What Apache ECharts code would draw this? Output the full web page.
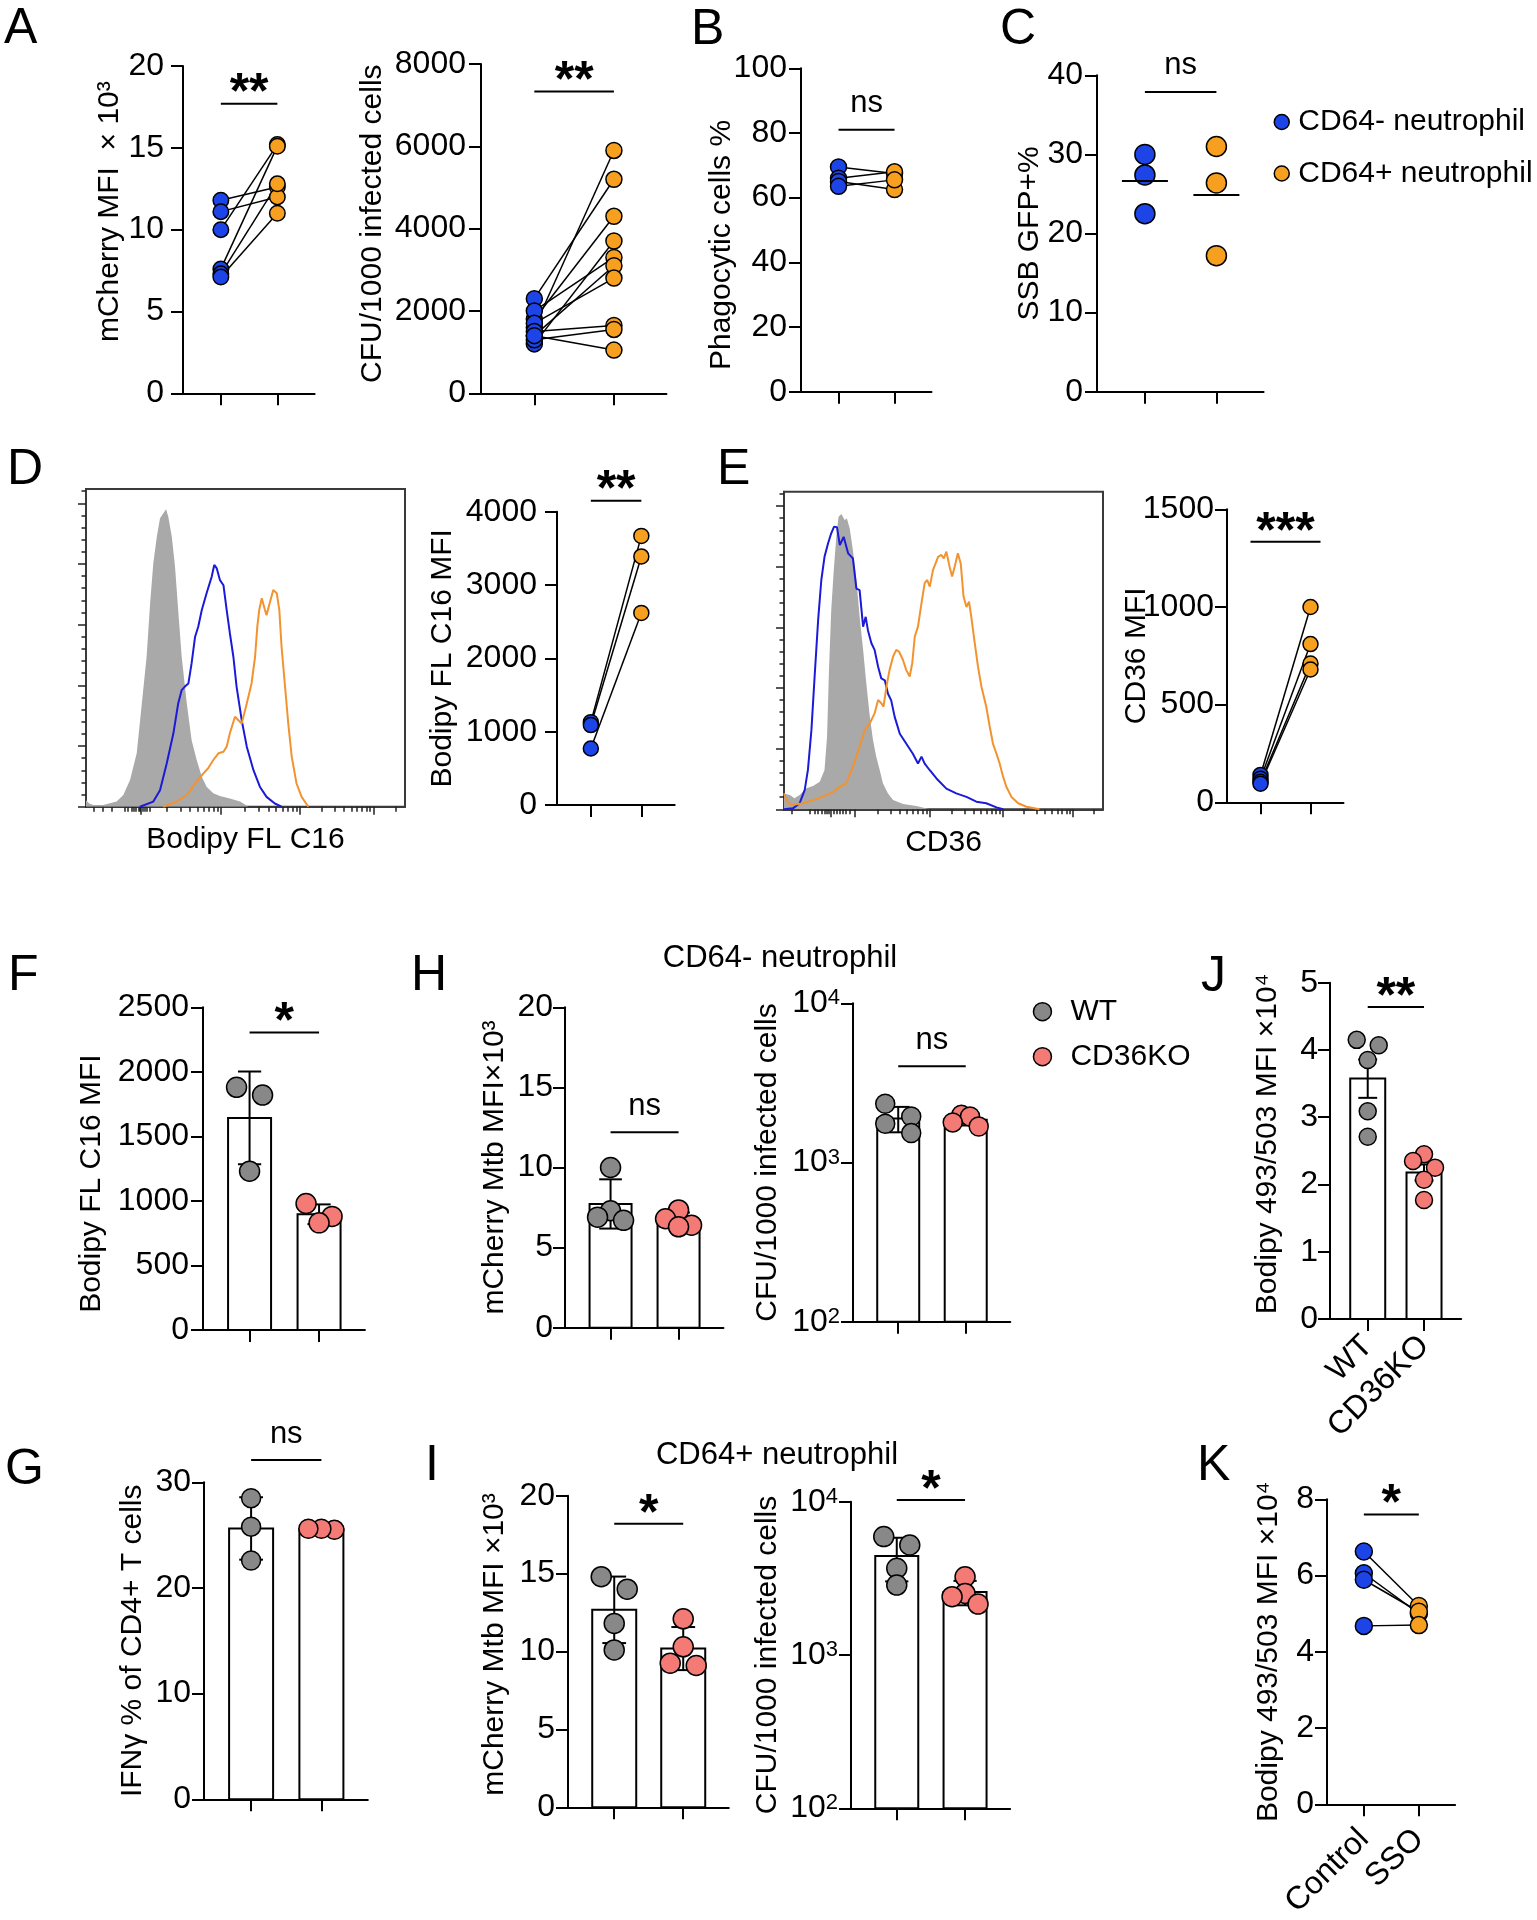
<!DOCTYPE html>
<html>
<head>
<meta charset="utf-8">
<script src="https://cdn.jsdelivr.net/npm/echarts@6/dist/echarts.min.js"></script>
<style>html,body{margin:0;padding:0;background:#fff}#main{width:1537px;height:1920px}</style>
</head>
<body>
<div id="main"></div>
<script>
// ---------- values ----------
// A: CD64- vs CD64+ neutrophils (paired)
var aMchNeg = [11.8, 11.1, 10.0, 7.6, 7.3, 7.1];
var aMchPos = [12.6, 12.0, 15.2, 15.1, 12.8, 11.0];
var aCfuNeg = [1600, 2300, 1800, 1200, 2000, 1400, 1700, 1500, 1300, 1400];
var aCfuPos = [5900, 5200, 4300, 3700, 3300, 3100, 2800, 1650, 1550, 1050];
// B, C
var bNeg = [69.5, 66.0, 65.0, 63.5];
var bPos = [67.5, 68.0, 62.5, 65.5];
var cNeg = [30.0, 27.4, 22.5];
var cPos = [31.0, 26.4, 17.2];
// D, E (MFI, paired)
var dNeg = [1130, 1090, 770];
var dPos = [3670, 3390, 2620];
var eNeg = [140, 120, 105, 95];
var ePos = [1000, 810, 710, 680];
// F-J: WT vs CD36KO
var fWT = [1880, 1820, 1230], fKO = [980, 880, 830];
var gWT = [28.5, 25.8, 22.6], gKO = [25.5, 25.6, 25.6];
var hMchWT = [10.0, 7.3, 6.9, 6.7], hMchKO = [7.35, 6.8, 6.4, 6.3];
var hCfuWT = [2340, 1945, 1750, 1530], hCfuKO = [1995, 1946, 1786, 1683];
var iMchWT = [14.8, 14.0, 11.8, 10.1], iMchKO = [12.1, 10.3, 9.25, 9.1];
var iCfuWT = [5920, 5220, 3680, 2860], iCfuKO = [3240, 2520, 2400, 2150];
var jWT = [4.15, 4.07, 3.85, 3.09, 2.71], jKO = [2.45, 2.35, 2.25, 2.07, 1.77];
// K: control vs SSO (paired)
var kControl = [6.63, 6.06, 5.89, 4.68], kSSO = [5.2, 5.0, 5.05, 4.7];

// significance bars: [from, to, height, label]
var sigA1 = [1, 2, 17.7, '**'], sigA2 = [1, 2, 7330, '**'];
var sigB = [1, 2, 81, 'ns'], sigC = [1, 2, 37.9, 'ns'];
var sigD = [1, 2, 4150, '**'], sigE = [0.8, 2.2, 1334, '***'];
var sigF = [1, 2, 2305, '*'], sigG = [1, 2, 32.1, 'ns'];
var sigH1 = [1, 2, 12.2, 'ns'], sigH2 = [1, 2, 4020, 'ns'];
var sigI1 = [1, 2, 18.2, '*'], sigI2 = [1, 2, 10260, '*'];
var sigJ = [1, 2, 4.64, '**'], sigK = [1, 2, 7.6, '*'];

// flow histograms: [channel (0-100), % of modal height]
var dHistIso = [[0,2.0],[1,1.0],[2.3,0.5],[5.4,0.5],[9.6,1.6],[11.7,3.7],[13.8,8.4],[15.9,16.8],[17.5,32.5],[19.0,47.2],[20.1,64.0],[21.1,76.6],[22.2,85.0],[23.2,90.8],[24.2,92.3],[25.1,93.6],[25.8,91.3],[26.9,85.0],[27.9,75.6],[28.9,61.9],[30.0,47.2],[31.6,32.5],[33.1,21.0],[34.7,14.7],[36.3,9.4],[37.8,6.3],[39.9,4.2],[42.0,3.4],[45.1,2.6],[48.3,1.6],[50.9,0]];
var dHistNeg = [[16.9,0],[21.1,1.6],[23.2,5.2],[25.3,13.6],[27.4,23.1],[28.9,32.5],[30.0,36.7],[31.0,37.8],[32.1,38.8],[33.1,45.1],[34.2,53.5],[35.2,56.7],[36.3,61.9],[37.8,67.2],[39.4,72.4],[40.2,76.1],[41.0,75.0],[42.0,71.3],[43.1,69.7],[44.1,61.9],[45.1,54.6],[46.2,47.2],[47.2,37.8],[48.8,27.3],[50.4,18.9],[52.5,11.5],[54.5,6.3],[56.6,3.1],[59.2,1.0],[61.3,0]];
var dHistPos = [[24.2,0],[28.4,1.6],[31.6,3.7],[34.7,7.9],[36.8,10.5],[38.3,12.1],[39.9,14.7],[41.5,16.8],[43.1,17.3],[44.1,18.9],[45.1,23.1],[46.7,28.3],[48.8,26.2],[50.4,32.5],[51.9,38.8],[53.0,47.2],[53.7,56.7],[54.3,61.9],[55.1,65.6],[56.1,61.9],[56.6,60.3],[57.7,64.5],[58.7,68.2],[59.8,67.2],[60.6,61.9],[61.3,50.4],[62.4,37.8],[63.4,26.2],[64.5,15.7],[66.0,7.3],[67.6,3.1],[69.7,0]];
var eHistIso = [[0,5.0],[1.8,4.5],[3.3,3.5],[4.9,4.5],[7.0,6.6],[9.1,7.3],[11.2,8.7],[12.7,12.4],[13.5,22.9],[14.1,43.9],[14.8,62.7],[15.6,75.3],[16.4,85.8],[17.1,92.1],[18.0,93.0],[19.0,91.1],[19.7,91.6],[20.6,88.5],[21.6,81.6],[22.7,72.2],[23.7,60.7],[24.8,50.2],[25.8,39.7],[26.9,29.2],[27.9,21.8],[28.9,16.6],[30.0,12.4],[31.0,8.2],[32.6,5.0],[34.2,2.9],[37.3,1.7],[41.5,1.0],[45.7,0]];
var eHistNeg = [[0,0],[2.8,0.3],[4.9,1.9],[6.5,6.1],[7.5,12.4],[8.6,25.0],[9.6,41.8],[10.7,59.6],[11.7,72.2],[12.7,79.5],[13.8,83.7],[14.8,86.9],[15.7,89.0],[16.6,88.8],[17.5,83.2],[18.7,85.8],[20.1,80.6],[21.6,79.0],[22.7,69.5],[23.7,69.0],[24.8,57.5],[25.6,60.6],[26.3,56.4],[27.4,52.3],[28.4,50.2],[29.5,44.9],[30.5,41.2],[31.6,40.6],[32.6,36.4],[33.6,34.3],[34.7,29.1],[36.3,23.8],[38.3,20.7],[40.4,17.5],[42.0,14.4],[43.1,16.6],[44.1,14.4],[45.7,12.3],[47.8,9.7],[50.9,6.5],[54.0,5.0],[57.2,3.9],[60.3,2.4],[63.4,1.9],[66.6,0.6],[68.7,0]];
var eHistPos = [[0,5.0],[1.3,1.9],[2.8,1.4],[6.0,1.9],[9.1,2.9],[12.2,4.0],[15.4,5.5],[17.5,7.1],[19.5,8.2],[21.6,13.4],[23.7,19.7],[25.3,24.9],[26.9,27.1],[28.4,30.2],[29.5,34.4],[30.5,33.4],[31.2,32.3],[32.1,38.6],[33.1,43.9],[34.2,48.1],[35.2,50.2],[36.1,49.6],[37.3,47.0],[38.3,43.9],[39.4,41.8],[40.2,46.0],[41.0,54.4],[42.0,57.5],[43.1,64.9],[44.1,71.2],[44.9,72.2],[45.7,70.1],[46.7,75.3],[48.3,79.5],[49.3,80.1],[50.1,79.0],[50.9,81.1],[51.9,76.4],[52.7,73.3],[53.5,76.4],[54.5,80.6],[55.4,77.4],[56.3,66.9],[57.2,63.7],[58.0,65.4],[58.7,60.7],[59.8,52.3],[60.8,45.0],[61.9,38.6],[63.4,32.3],[64.5,26.0],[65.5,20.7],[66.6,17.5],[67.6,14.4],[68.7,10.2],[69.7,7.1],[71.3,3.9],[73.4,1.9],[76.0,0.8],[80.1,0]];

// ---------- styling ----------
var FONT = '"Liberation Sans", Arial, Helvetica, sans-serif';
var BLUE = '#1d44e6', ORANGE = '#f7a020', GRAY = '#888888', SALMON = '#f47a76';
var HBLUE = '#1a1ad8', HORANGE = '#f29330', HGRAY = '#a9a9a9';
var AXLINE = {color: '#000', width: 2};
var TICKFS = 32, NAMEFS = 30;
var XMIN = 0.33, XMAX = 2.66;

var grids = [], xAxes = [], yAxes = [], series = [];

function mean(a) { var s = 0; a.forEach(function (v) { s += v; }); return s / a.length; }
function sd(a) { var m = mean(a), s = 0; a.forEach(function (v) { s += (v - m) * (v - m); }); return Math.sqrt(s / (a.length - 1)); }
function sem(a) { return sd(a) / Math.sqrt(a.length); }

function addPanel(p) {
  var gi = grids.length;
  var h = p.zero - p.top;
  grids.push({left: p.left, top: p.top, width: p.unit * (XMAX - XMIN), height: h, outerBoundsMode: 'none'});
  p.xi = xAxes.length; p.yi = yAxes.length;
  var xa = {
    gridIndex: gi, type: 'value', min: XMIN, max: XMAX, splitLine: {show: false},
    axisLine: {show: true, onZero: false, lineStyle: AXLINE},
    axisTick: {show: true, customValues: [1, 2], length: 12, lineStyle: AXLINE},
    axisLabel: {show: false}
  };
  if (p.cats) {
    xa.axisLabel = {show: true, customValues: [1, 2], rotate: 45, margin: p.catMargin, fontSize: TICKFS, fontFamily: FONT, color: '#000',
      formatter: function (v) { return p.cats[Math.round(v) - 1]; }};
  }
  xAxes.push(xa);
  var lab = {show: true, margin: p.margin, fontSize: TICKFS, fontFamily: FONT, color: '#000', formatter: function (v) { return String(v); }};
  if (p.log) {
    lab.formatter = function (v) { return '{b|10}{s|' + Math.round(Math.log10(v)) + '}'; };
    lab.rich = {
      b: {fontSize: TICKFS, fontFamily: FONT, lineHeight: 32, padding: [12, 0, 0, 0], verticalAlign: 'bottom'},
      s: {fontSize: 22, fontFamily: FONT, lineHeight: 22, verticalAlign: 'top'}
    };
  }
  // shift (px, + = up) of the rotated axis title along the axis
  var sh = p.shift || 0;
  var ya = {
    gridIndex: gi, type: p.log ? 'log' : 'value', min: p.min, max: p.max,
    name: p.name, nameLocation: 'middle', nameGap: p.nameGap, nameMoveOverlap: false,
    nameTextStyle: {fontSize: NAMEFS, fontFamily: FONT, color: '#000',
      padding: sh > 0 ? [0, 0, 0, 2 * sh] : (sh < 0 ? [0, -2 * sh, 0, 0] : 0)},
    splitLine: {show: false}, axisLine: {show: true, onZero: false, lineStyle: AXLINE},
    axisTick: {show: true, length: 12, lineStyle: AXLINE}, axisLabel: lab
  };
  if (p.log) ya.logBase = 10; else ya.interval = p.interval;
  yAxes.push(ya);
  p.pxPerVal = h / (p.log ? Math.log10(p.max / p.min) : (p.max - p.min));
  return p;
}

// points spread sideways where they would overlap (column scatter layout)
function swarm(p, vals, diam, span) {
  var pos = vals.map(function (v) { return p.log ? Math.log10(v) : v; });
  var order = vals.map(function (v, i) { return i; }).sort(function (a, b) { return pos[b] - pos[a]; });
  var offs = vals.map(function () { return 0; });
  var i = 0;
  while (i < order.length) {
    var row = [order[i]], j = i + 1;
    while (j < order.length && (pos[order[i]] - pos[order[j]]) * p.pxPerVal < diam * 0.8) { row.push(order[j]); j++; }
    if (row.length > 1) {
      var n = row.length, sp = span / (n - 1), slots = [];
      for (var k = 0; k < n; k++) slots.push((k - (n - 1) / 2) * sp);
      slots.sort(function (a, b) { return (Math.abs(a) - Math.abs(b)) || (a - b); });
      row.forEach(function (idx, r) { offs[idx] = slots[r] / p.unit; });
    }
    i = j;
  }
  return offs;
}

function dots(p, name, x, vals, color, size, offs) {
  series.push({
    type: 'scatter', name: name, xAxisIndex: p.xi, yAxisIndex: p.yi, clip: false, z: 4,
    symbol: 'circle', symbolSize: size,
    itemStyle: {color: color, borderColor: '#000', borderWidth: 1.5, opacity: 1},
    data: vals.map(function (v, i) { return [x + (offs ? offs[i] : 0), v]; })
  });
}

function pairLines(p, a, b) {
  series.push({
    type: 'custom', xAxisIndex: p.xi, yAxisIndex: p.yi, silent: true, z: 3,
    data: a.map(function (v, i) { return [v, b[i]]; }),
    renderItem: function (params, api) {
      var s = api.coord([1, api.value(0)]), e = api.coord([2, api.value(1)]);
      return {type: 'line', shape: {x1: s[0], y1: s[1], x2: e[0], y2: e[1]}, style: {stroke: '#000', lineWidth: 1.5}};
    }
  });
}

function bars(p, groups, errFn, bw) {
  var base = p.log ? p.min : 0;
  series.push({
    type: 'custom', xAxisIndex: p.xi, yAxisIndex: p.yi, silent: true, z: 2,
    data: groups.map(function (g, i) { return [i + 1, mean(g), errFn(g)]; }),
    renderItem: function (params, api) {
      var x = api.value(0), m = api.value(1), e = api.value(2);
      var t = api.coord([x, m]), b = api.coord([x, base]);
      var hi = api.coord([x, m + e]), lo = api.coord([x, m - e]);
      var cap = bw * 0.27;
      var st = {stroke: '#000', lineWidth: 2};
      return {type: 'group', children: [
        {type: 'rect', shape: {x: t[0] - bw / 2, y: t[1], width: bw, height: b[1] - t[1]}, style: {fill: '#fff', stroke: '#000', lineWidth: 2}},
        {type: 'line', shape: {x1: hi[0], y1: hi[1], x2: lo[0], y2: lo[1]}, style: st},
        {type: 'line', shape: {x1: hi[0] - cap, y1: hi[1], x2: hi[0] + cap, y2: hi[1]}, style: st},
        {type: 'line', shape: {x1: lo[0] - cap, y1: lo[1], x2: lo[0] + cap, y2: lo[1]}, style: st}
      ]};
    }
  });
}

function meanLines(p, groups) {
  series.push({
    type: 'custom', xAxisIndex: p.xi, yAxisIndex: p.yi, silent: true, z: 5,
    data: groups.map(function (g, i) { return [i + 1, mean(g)]; }),
    renderItem: function (params, api) {
      var c = api.coord([api.value(0), api.value(1)]);
      return {type: 'line', shape: {x1: c[0] - 23, y1: c[1], x2: c[0] + 23, y2: c[1]}, style: {stroke: '#000', lineWidth: 2}};
    }
  });
}

function sig(p, s) {
  series.push({
    type: 'custom', xAxisIndex: p.xi, yAxisIndex: p.yi, silent: true, z: 5,
    data: [[s[0], s[1], s[2]]],
    renderItem: function (params, api) {
      var a = api.coord([api.value(0), api.value(2)]), b = api.coord([api.value(1), api.value(2)]);
      var star = s[3].indexOf('*') >= 0;
      return {type: 'group', children: [
        {type: 'line', shape: {x1: a[0], y1: a[1], x2: b[0], y2: b[1]}, style: {stroke: '#000', lineWidth: 2}},
        {type: 'text', x: (a[0] + b[0]) / 2, y: a[1] - (star ? 9 : 26),
          style: {text: s[3], fill: '#000', fontFamily: FONT, fontSize: star ? 50 : 31, fontWeight: star ? 'bold' : 'normal', align: 'center', verticalAlign: 'middle'}}
      ]};
    }
  });
}

// ---------- histogram panels ----------
var LOGF = [2, 3, 4, 5, 6, 7, 8, 9].map(function (k) { return Math.log10(k); });
function decadeMinor(bounds, extra) {
  var out = extra.slice();
  for (var i = 0; i < bounds.length - 1; i++) {
    LOGF.forEach(function (f) { var t = bounds[i] + (bounds[i + 1] - bounds[i]) * f; if (t < 100) out.push(+t.toFixed(2)); });
  }
  return out;
}
var hYMajor = [0, 19.1, 38.2, 57.3, 76.4, 95.5];
var hYMinor = [];
for (var q = 1; q * 3.82 < 100; q++) { if (q % 5) hYMinor.push(+(q * 3.82).toFixed(2)); }

function histPanel(o) {
  var gi = grids.length;
  grids.push({left: o.left, top: o.top, width: o.width, height: o.height, show: true, borderColor: '#3a3a3a', borderWidth: 2, outerBoundsMode: 'none'});
  var tk = {color: '#222', width: 1.5};
  o.xi = xAxes.length; o.yi = yAxes.length;
  xAxes.push({gridIndex: gi, type: 'value', min: 0, max: 100, position: 'bottom',
    name: o.name, nameLocation: 'middle', nameGap: 18, nameMoveOverlap: false,
    nameTextStyle: {fontSize: 30, fontFamily: FONT, color: '#000'},
    axisLine: {show: true, onZero: false, lineStyle: {color: '#3a3a3a', width: 2}},
    axisTick: {show: true, customValues: o.major, length: 8, lineStyle: tk}, axisLabel: {show: false}, splitLine: {show: false}});
  xAxes.push({gridIndex: gi, type: 'value', min: 0, max: 100, position: 'bottom',
    axisLine: {show: false}, axisTick: {show: true, customValues: o.minor, length: 5, lineStyle: tk}, axisLabel: {show: false}, splitLine: {show: false}});
  yAxes.push({gridIndex: gi, type: 'value', min: 0, max: 100, position: 'left',
    axisLine: {show: true, onZero: false, lineStyle: {color: '#3a3a3a', width: 2}},
    axisTick: {show: true, customValues: hYMajor, length: 8, lineStyle: tk}, axisLabel: {show: false}, splitLine: {show: false}});
  yAxes.push({gridIndex: gi, type: 'value', min: 0, max: 100, position: 'left',
    axisLine: {show: false}, axisTick: {show: true, customValues: hYMinor, length: 4.5, lineStyle: tk}, axisLabel: {show: false}, splitLine: {show: false}});
  series.push({type: 'line', xAxisIndex: o.xi, yAxisIndex: o.yi, data: o.iso, symbol: 'none', silent: true, z: 2,
    lineStyle: {width: 0}, areaStyle: {color: HGRAY, opacity: 1}});
  series.push({type: 'line', xAxisIndex: o.xi, yAxisIndex: o.yi, data: o.neg, symbol: 'none', silent: true, z: 3,
    lineStyle: {color: HBLUE, width: 2}});
  series.push({type: 'line', xAxisIndex: o.xi, yAxisIndex: o.yi, data: o.pos, symbol: 'none', silent: true, z: 3,
    lineStyle: {color: HORANGE, width: 2}});
}

histPanel({left: 86, top: 489, width: 319, height: 317.7, name: 'Bodipy FL C16',
  major: [17.2, 42.3, 67.1, 90.1],
  minor: decadeMinor([18.0, 42.3, 67.1, 90.1, 113.1], [2.3, 5.4, 8.0, 12.2, 13.2, 14.3, 15.0, 15.6, 16.4, 16.9, 17.8, 18.5, 19.2, 20.1]),
  iso: dHistIso, neg: dHistNeg, pos: dHistPos});
histPanel({left: 784, top: 491.7, width: 319, height: 317.6, name: 'CD36',
  major: [14.8, 22.2, 45.7, 68.7, 90.6],
  minor: decadeMinor([22.2, 45.7, 68.7, 90.6, 112.5], [2.3, 8.0, 9.6, 10.7, 11.7, 12.7, 13.5, 14.1, 15.6, 16.4, 17.5, 18.5, 19.5, 20.6]),
  iso: eHistIso, neg: eHistNeg, pos: eHistPos});

// ---------- dot / bar panels ----------
var pA1 = addPanel({left: 183, unit: 56.5, top: 66, zero: 393.3, min: 0, max: 20, interval: 5, name: 'mCherry MFI  × 10³', nameGap: 58, margin: 19, shift: 18});
var pA2 = addPanel({left: 481, unit: 79.6, top: 64, zero: 393.3, min: 0, max: 8000, interval: 2000, name: 'CFU/1000 infected cells', nameGap: 93, margin: 15, shift: 5});
var pB = addPanel({left: 801, unit: 56, top: 68.3, zero: 391.7, min: 0, max: 100, interval: 20, name: 'Phagocytic cells %', nameGap: 64, margin: 14, shift: -15});
var pC = addPanel({left: 1097, unit: 71.5, top: 75.3, zero: 391.7, min: 0, max: 40, interval: 10, name: 'SSB GFP+%', nameGap: 52, margin: 14});
var pD = addPanel({left: 557, unit: 50.5, top: 511.7, zero: 805, min: 0, max: 4000, interval: 1000, name: 'Bodipy FL C16 MFI', nameGap: 99, margin: 20});
var pE = addPanel({left: 1227, unit: 50, top: 509.3, zero: 802.3, min: 0, max: 1500, interval: 500, name: 'CD36 MFI', nameGap: 75, margin: 13});
var pF = addPanel({left: 203, unit: 69.5, top: 1007.3, zero: 1330, min: 0, max: 2500, interval: 500, name: 'Bodipy FL C16 MFI', nameGap: 96, margin: 14, shift: -15});
var pH1 = addPanel({left: 565, unit: 68, top: 1007.3, zero: 1327.7, min: 0, max: 20, interval: 5, name: 'mCherry Mtb MFI×10³', nameGap: 55, margin: 12});
var pH2 = addPanel({left: 853, unit: 67.5, top: 1003.3, zero: 1321.7, min: 100, max: 10000, log: true, name: 'CFU/1000 infected cells', nameGap: 70, margin: 13});
var pJ = addPanel({left: 1330, unit: 56.3, top: 982.7, zero: 1319, min: 0, max: 5, interval: 1, name: 'Bodipy 493/503 MFI ×10⁴', nameGap: 47, margin: 12, shift: 7,
  cats: ['WT', 'CD36KO'], catMargin: 22});
var pG = addPanel({left: 204, unit: 70.3, top: 1482.3, zero: 1799.3, min: 0, max: 30, interval: 10, name: 'IFNγ % of CD4+ T cells', nameGap: 56, margin: 13});
var pI1 = addPanel({left: 568, unit: 69, top: 1495.7, zero: 1807.3, min: 0, max: 20, interval: 5, name: 'mCherry Mtb MFI ×10³', nameGap: 58, margin: 13, shift: 7});
var pI2 = addPanel({left: 851, unit: 68.3, top: 1501.7, zero: 1808.3, min: 100, max: 10000, log: true, name: 'CFU/1000 infected cells', nameGap: 68, margin: 13});
var pK = addPanel({left: 1327, unit: 55, top: 1499.3, zero: 1804.3, min: 0, max: 8, interval: 2, name: 'Bodipy 493/503 MFI ×10⁴', nameGap: 43, margin: 13,
  cats: ['Control', 'SSO'], catMargin: 30});

// paired panels
function paired(p, a, b, size, nameA, nameB) {
  pairLines(p, a, b);
  dots(p, nameA, 1, a, BLUE, size);
  dots(p, nameB, 2, b, ORANGE, size);
}
paired(pA1, aMchNeg, aMchPos, 15.5, 'CD64- neutrophil', 'CD64+ neutrophil');
paired(pA2, aCfuNeg, aCfuPos, 16, 'CD64- neutrophil', 'CD64+ neutrophil');
paired(pB, bNeg, bPos, 16, 'CD64- neutrophil', 'CD64+ neutrophil');
paired(pD, dNeg, dPos, 15, 'CD64- neutrophil', 'CD64+ neutrophil');
paired(pE, eNeg, ePos, 15, 'CD64- neutrophil', 'CD64+ neutrophil');
paired(pK, kControl, kSSO, 17, 'Control', 'SSO');

// C: scatter with mean
meanLines(pC, [cNeg, cPos]);
dots(pC, 'CD64- neutrophil', 1, cNeg, BLUE, 20);
dots(pC, 'CD64+ neutrophil', 2, cPos, ORANGE, 20);

// bar + points panels
function barPanel(p, wt, ko, errFn, bw, size, span) {
  bars(p, [wt, ko], errFn, bw);
  dots(p, 'WT', 1, wt, GRAY, size, swarm(p, wt, size, span));
  dots(p, 'CD36KO', 2, ko, SALMON, size, swarm(p, ko, size, span));
}
barPanel(pF, fWT, fKO, sd, 43, 20, 26);
barPanel(pH1, hMchWT, hMchKO, sd, 42, 20, 26);
barPanel(pH2, hCfuWT, hCfuKO, sd, 42, 19, 26);
barPanel(pJ, jWT, jKO, sem, 35, 17, 22);
barPanel(pG, gWT, gKO, sd, 44, 19, 26);
barPanel(pI1, iMchWT, iMchKO, sd, 44, 20, 26);
barPanel(pI2, iCfuWT, iCfuKO, sd, 43, 20, 26);

sig(pA1, sigA1); sig(pA2, sigA2); sig(pB, sigB); sig(pC, sigC);
sig(pD, sigD); sig(pE, sigE); sig(pF, sigF); sig(pG, sigG);
sig(pH1, sigH1); sig(pH2, sigH2); sig(pI1, sigI1); sig(pI2, sigI2);
sig(pJ, sigJ); sig(pK, sigK);

// ---------- text ----------
var graphics = [];
[['A', 4, 29], ['B', 691, 30], ['C', 1000, 30], ['D', 7, 470], ['E', 717, 470],
 ['F', 8, 976], ['H', 411, 976], ['J', 1201, 977], ['G', 5, 1470], ['I', 425, 1466], ['K', 1197, 1466]]
  .forEach(function (l) {
    graphics.push({type: 'text', x: l[1], y: l[2], style: {text: l[0], fontSize: 50, fontFamily: FONT, fill: '#000', verticalAlign: 'middle'}});
  });
graphics.push({type: 'text', x: 780, y: 958, style: {text: 'CD64- neutrophil', fontSize: 31, fontFamily: FONT, fill: '#000', align: 'center', verticalAlign: 'middle'}});
graphics.push({type: 'text', x: 777, y: 1455, style: {text: 'CD64+ neutrophil', fontSize: 31, fontFamily: FONT, fill: '#000', align: 'center', verticalAlign: 'middle'}});

function legendItem(name, color) {
  return {name: name, icon: 'circle', itemStyle: {color: color, borderColor: '#000', borderWidth: 1.5}};
}

var option = {
  animation: false,
  backgroundColor: '#fff',
  textStyle: {fontFamily: FONT, color: '#000'},
  grid: grids,
  xAxis: xAxes,
  yAxis: yAxes,
  legend: [
    {left: 1273.5, top: 107, orient: 'vertical', padding: 0, itemWidth: 15, itemHeight: 15, itemGap: 21.5, selectedMode: false,
      textStyle: {fontSize: 30, fontFamily: FONT, color: '#000', lineHeight: 30, padding: [0, 0, 0, 4]},
      data: [legendItem('CD64- neutrophil', BLUE), legendItem('CD64+ neutrophil', ORANGE)]},
    {left: 1032.7, top: 996.7, orient: 'vertical', padding: 0, itemWidth: 18, itemHeight: 18, itemGap: 15, selectedMode: false,
      textStyle: {fontSize: 30, fontFamily: FONT, color: '#000', lineHeight: 30, padding: [0, 0, 0, 14]},
      data: [legendItem('WT', GRAY), legendItem('CD36KO', SALMON)]}
  ],
  graphic: graphics,
  series: series
};

var chart = echarts.init(document.getElementById('main'));
chart.setOption(option);
</script>
</body>
</html>
